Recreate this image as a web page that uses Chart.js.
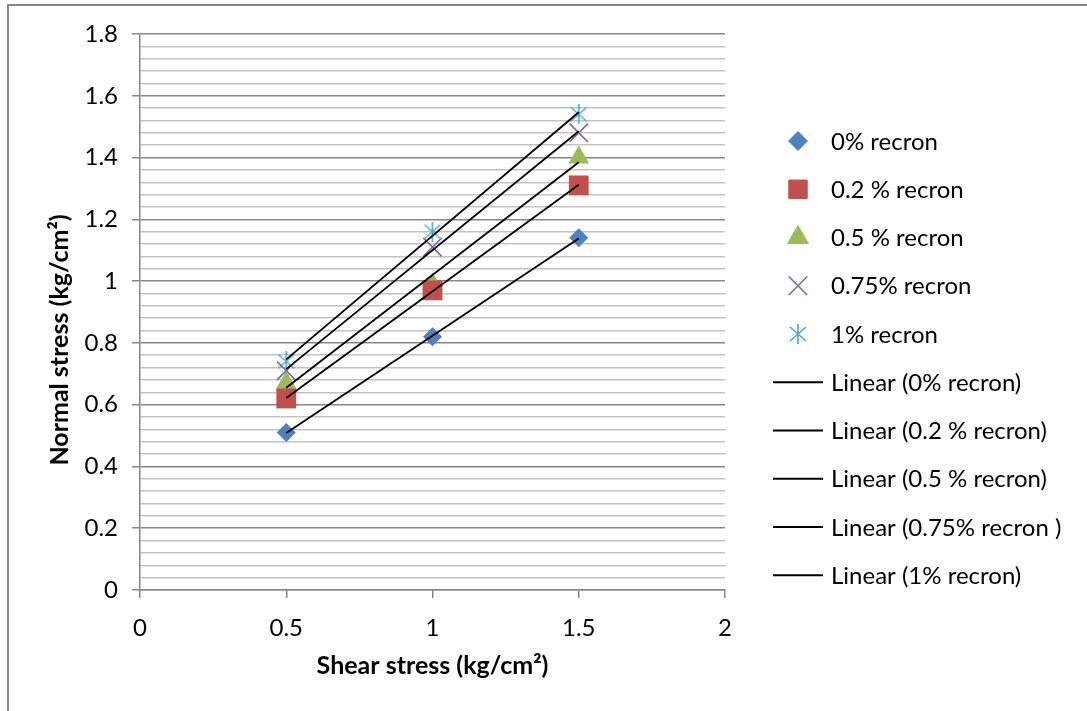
<!DOCTYPE html>
<html>
<head>
<meta charset="utf-8">
<script src="https://cdn.jsdelivr.net/npm/chart.js@4.4.0/dist/chart.umd.min.js"></script>
<style>
  body { margin: 0; background: #fff; }
  #frame { position: absolute; left: 7px; top: 4px; width: 1080px; height: 707px;
           border-top: 2px solid #878787; border-left: 2px solid #878787; }
  #myChart { position: absolute; left: 0; top: 0; }
</style>
</head>
<body>
<div id="frame"></div>
<canvas id="myChart" width="1087" height="711"></canvas>
<script>
// shear stress values (x)
const shear = [0.5, 1, 1.5];
// normal stress for each recron content
const recron0 = [0.51, 0.82, 1.14];
const recron02 = [0.62, 0.97, 1.31];
const recron05 = [0.67, 0.99, 1.40];
const recron075 = [0.71, 1.11, 1.48];
const recron1 = [0.74, 1.16, 1.54];
const seriesNames = ['0% recron', '0.2 % recron', '0.5 % recron', '0.75% recron', '1% recron'];
const trendNames = ['Linear (0% recron)', 'Linear (0.2 % recron)', 'Linear (0.5 % recron)', 'Linear (0.75% recron )', 'Linear (1% recron)'];
const xMax = 2, xStep = 0.5;
const yMax = 1.8, yMajor = 0.2, yMinor = 0.04;

const FONT = 'Lato, "Open Sans", sans-serif';

// asterisk marker like excel's
const star = document.createElement('canvas');
star.width = 20; star.height = 20;
(function () {
  const c = star.getContext('2d');
  c.strokeStyle = '#4bacc6';
  c.lineWidth = 1.6;
  c.beginPath();
  c.moveTo(10, 0); c.lineTo(10, 20);
  c.moveTo(2, 3); c.lineTo(18, 17);
  c.moveTo(18, 3); c.lineTo(2, 17);
  c.stroke();
})();

const ys = [recron0, recron02, recron05, recron075, recron1];
const styles = [
  { pointStyle: 'rectRot', radius: 9.5, color: '#4f81bd' },
  { pointStyle: 'rect', radius: 14, color: '#c0504d' },
  { pointStyle: 'triangle', radius: 12, color: '#9bbb59' },
  { pointStyle: 'crossRot', radius: 13, color: '#8064a2' },
  { pointStyle: star, radius: 10, color: '#4bacc6' }
];

function linFit(xs, vals) {
  const n = xs.length;
  const mx = xs.reduce((a, b) => a + b, 0) / n;
  const my = vals.reduce((a, b) => a + b, 0) / n;
  let sxy = 0, sxx = 0;
  for (let i = 0; i < n; i++) { sxy += (xs[i] - mx) * (vals[i] - my); sxx += (xs[i] - mx) ** 2; }
  const k = sxy / sxx;
  const x0 = Math.min(...xs), x1 = Math.max(...xs);
  return [{ x: x0, y: my + k * (x0 - mx) }, { x: x1, y: my + k * (x1 - mx) }];
}

const datasets = [];
ys.forEach((vals, i) => {
  datasets.push({
    type: 'scatter',
    label: seriesNames[i],
    data: shear.map((x, j) => ({ x: x, y: vals[j] })),
    pointStyle: styles[i].pointStyle,
    pointRadius: styles[i].radius,
    pointHoverRadius: styles[i].radius,
    backgroundColor: styles[i].color,
    borderColor: styles[i].color,
    borderWidth: styles[i].pointStyle === 'crossRot' ? 1.6 : 0,
    order: 2
  });
});
ys.forEach((vals, i) => {
  datasets.push({
    type: 'line',
    label: trendNames[i],
    data: linFit(shear, vals),
    borderColor: '#000',
    borderWidth: 1.8,
    pointRadius: 0,
    fill: false,
    order: 1
  });
});

// legend + y title drawn by hand so it looks like the excel one
const excelLegend = {
  id: 'excelLegend',
  afterDraw(chart) {
    const ctx = chart.ctx;
    const a = chart.chartArea;
    ctx.save();
    ctx.font = '24px ' + FONT;
    ctx.textBaseline = 'middle';
    ctx.textAlign = 'left';
    const names = seriesNames.concat(trendNames);
    names.forEach((name, i) => {
      const y = a.top + 107 + i * 48.25;
      if (i < styles.length) {
        const s = styles[i];
        ctx.fillStyle = s.color;
        ctx.strokeStyle = s.color;
        ctx.lineWidth = s.pointStyle === 'crossRot' ? 1.6 : 0;
        Chart.helpers.drawPoint(ctx, { pointStyle: s.pointStyle, radius: s.pointStyle === 'rect' ? 13 : s.radius, rotation: 0, borderWidth: ctx.lineWidth }, a.right + 73, y);
      } else {
        ctx.strokeStyle = '#000';
        ctx.lineWidth = 1.8;
        ctx.beginPath();
        ctx.moveTo(a.right + 48, y);
        ctx.lineTo(a.right + 98, y);
        ctx.stroke();
      }
      ctx.fillStyle = '#000';
      ctx.fillText(name, a.right + 106, y + 1);
    });
    // y axis title
    ctx.font = 'bold 25px ' + FONT;
    ctx.textAlign = 'center';
    ctx.translate(a.left - 80, (a.top + a.bottom) / 2 + 28);
    ctx.rotate(-Math.PI / 2);
    ctx.fillText('Normal stress (kg/cm\u00b2)', 0, 0);
    ctx.restore();
  }
};

const isMajor = (v) => Math.abs(v / yMajor - Math.round(v / yMajor)) < 1e-6;

new Chart(document.getElementById('myChart'), {
  data: { datasets: datasets },
  plugins: [excelLegend],
  options: {
    responsive: false,
    animation: false,
    layout: { padding: { left: 0, top: 34, right: 362, bottom: 0 } },
    plugins: {
      legend: { display: false },
      tooltip: { enabled: false },
      title: { display: false }
    },
    scales: {
      x: {
        type: 'linear',
        min: 0,
        max: xMax,
        ticks: {
          stepSize: xStep,
          color: '#000',
          font: { size: 24, family: FONT },
          padding: 16,
          callback: (v) => String(Math.round(v * 100) / 100)
        },
        grid: { drawOnChartArea: false, color: '#868686', tickLength: 8, lineWidth: 1.5 },
        border: { color: '#868686', width: 1.5 },
        title: {
          display: true,
          text: 'Shear stress (kg/cm\u00b2)',
          color: '#000',
          font: { size: 25, weight: 'bold', family: FONT },
          padding: { top: 0, bottom: 30 }
        },
        afterFit(scale) { scale.height = 121; }
      },
      y: {
        type: 'linear',
        min: 0,
        max: yMax,
        ticks: {
          stepSize: yMinor,
          autoSkip: false,
          color: '#000',
          font: { size: 24, family: FONT },
          padding: 14,
          callback: (v) => isMajor(v) ? String(Math.round(v * 100) / 100) : ''
        },
        grid: {
          color: (ctx) => isMajor(ctx.tick.value) ? '#878787' : '#c3c3c3',
          tickColor: (ctx) => isMajor(ctx.tick.value) ? '#878787' : 'rgba(0,0,0,0)',
          lineWidth: 1.5,
          tickLength: 8
        },
        border: { color: '#868686', width: 1.5 },
        afterFit(scale) { scale.width = 140; }
      }
    }
  }
});
</script>
</body>
</html>
